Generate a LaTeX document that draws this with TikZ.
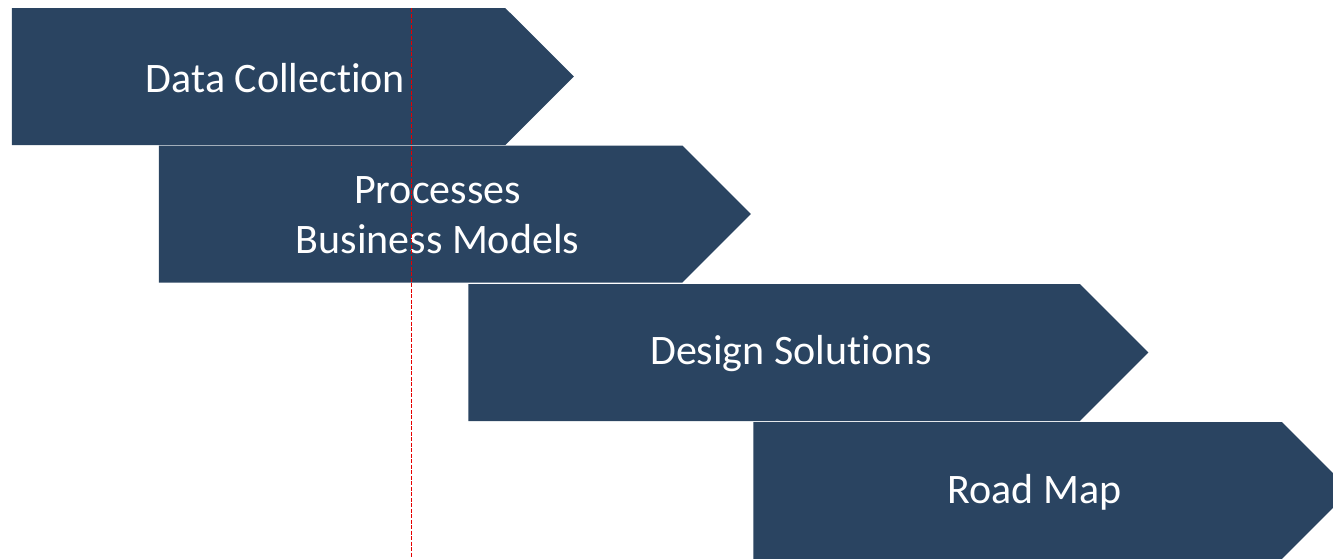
\documentclass[tikz,border=0pt]{standalone}
\usepackage{fontspec}
\setmainfont[Ligatures=NoCommon]{Carlito}
\usetikzlibrary{shapes.symbols}
\definecolor{navy}{RGB}{42,68,97}

\begin{document}
\begin{tikzpicture}[x=1pt,y=-1pt,
		stage/.style={signal,signal to=east,signal pointer angle=90,fill=navy,draw=none,
			inner sep=0pt,minimum height=137pt},
		lbl/.style={text=white,align=center,font=\fontsize{42}{50}\selectfont},
		guide/.style={draw=red!90!black,line width=1.5pt}]
		\useasboundingbox (0,0) rectangle (1333,558);
		\node[stage,minimum width=562pt] (collect) at (258.5,76.5) {};
		\node[stage,minimum width=592pt] (process) at (420.5,214) {};
		\node[stage,minimum width=680pt] (design) at (774,352.5) {};
		\node[stage,minimum width=597pt] (roadmap) at (1017.5,490.5) {};
		
		\node[lbl] (collectTxt) at ([xshift=17pt,yshift=-1.5pt]collect.center) {Data Collection};
		\node[lbl] (processTxt) at ([xshift=17pt,yshift=-1.5pt]process.center) {Processes\\Business Models};
		\node[lbl] (designTxt) at ([xshift=17pt,yshift=-1.5pt]design.center) {Design Solutions};
		\node[lbl] (roadmapTxt) at ([xshift=17pt,yshift=-1.5pt]roadmap.center) {Road Map};
		
		% guide line, dashes drawn one by one
		\foreach \yy in {8,13.5,...,554}
			\draw[guide] (411.5,\yy) -- (411.5,\yy+4);
		\end{tikzpicture}
\end{document}
